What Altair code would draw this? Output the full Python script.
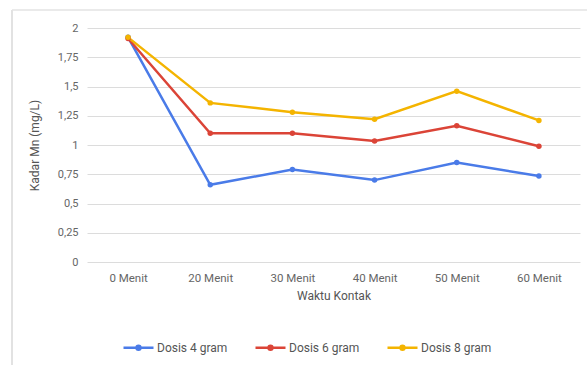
import altair as alt
import pandas as pd

categories = ["0 Menit", "20 Menit", "30 Menit", "40 Menit", "50 Menit", "60 Menit"]
dosis4 = [1.92, 0.66, 0.79, 0.70, 0.85, 0.735]
dosis6 = [1.91, 1.10, 1.10, 1.035, 1.165, 0.99]
dosis8 = [1.92, 1.36, 1.28, 1.22, 1.46, 1.21]
series = ["Dosis 4 gram", "Dosis 6 gram", "Dosis 8 gram"]
colors = ["#4a7be8", "#db4437", "#f4b400"]
y_ticks = [0, 0.25, 0.5, 0.75, 1, 1.25, 1.5, 1.75, 2]

rows = []
for name, vals in zip(series, [dosis4, dosis6, dosis8]):
    for i, (c, v) in enumerate(zip(categories, vals)):
        rows.append({"Waktu": c, "Kadar": v, "Seri": name, "order": i})
df = pd.DataFrame(rows)

W, H = 493, 234
font = "Roboto"

legend_symbol = "M-1,0H1M0.13,0A0.13,0.13 0 1,1 -0.13,0A0.13,0.13 0 1,1 0.13,0"

base = alt.Chart(df)

lines = base.mark_line(strokeWidth=2.5, point=alt.OverlayMarkDef(filled=True, size=30)).encode(
    x=alt.X("Waktu:N", sort=categories, scale=alt.Scale(type="point", padding=0.5),
            axis=alt.Axis(title="Waktu Kontak", labelAngle=0, ticks=False, domain=False,
                          grid=False, labelPadding=10, titlePadding=7,
                          labelFontSize=11.5, titleFontSize=12,
                          labelColor="#666666", titleColor="#555555",
                          labelFont=font, titleFont=font, titleFontWeight="normal")),
    y=alt.Y("Kadar:Q", scale=alt.Scale(domain=[0, 2], nice=False),
            axis=alt.Axis(title="Kadar Mn (mg/L)", values=y_ticks, ticks=False, domain=False,
                          gridColor="#dcdcdc", gridWidth=1, labelPadding=9,
                          labelExpr="replace(format(datum.value, '~g'), '.', ',')",
                          labelFontSize=11, titleFontSize=12, titlePadding=16,
                          labelColor="#666666", titleColor="#555555",
                          labelFont=font, titleFont=font, titleFontWeight="normal")),
    color=alt.Color("Seri:N", scale=alt.Scale(domain=series, range=colors),
                    legend=alt.Legend(title=None, orient="none", direction="horizontal",
                                      legendX=35, legendY=303,
                                      symbolType=legend_symbol, symbolSize=900,
                                      symbolStrokeWidth=2.5, columnPadding=22,
                                      labelOffset=2, labelFontSize=12, labelColor="#555555",
                                      labelFont=font)),
    order="order:Q",
)

frame_df = pd.DataFrame({"k": [0]})
frame_left = alt.Chart(frame_df).mark_rule(color="#d9d9d9", strokeWidth=1.5, clip=False).encode(
    x=alt.value(-75), y=alt.value(-18), y2=alt.value(H + 103)
)
frame_top = alt.Chart(frame_df).mark_rule(color="#e3e3e3", strokeWidth=1.5, clip=False).encode(
    x=alt.value(-75), x2=alt.value(W + 7), y=alt.value(-18)
)

chart = alt.layer(frame_left, frame_top, lines).properties(
    width=W, height=H,
    autosize=alt.AutoSizeParams(type="none"),
    padding={"left": 87, "top": 28, "right": 7, "bottom": 103},
    background="white",
).configure_view(stroke=None)

chart.save("out.html", embed_options={"renderer": "svg", "actions": False})
